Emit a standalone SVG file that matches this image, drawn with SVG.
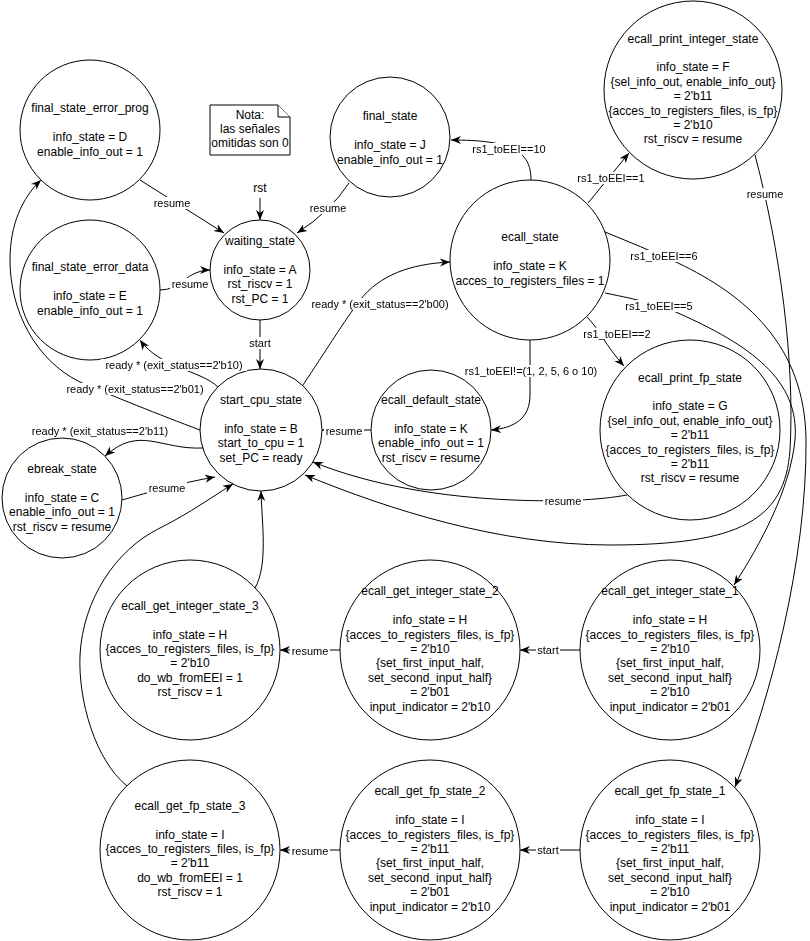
<svg xmlns="http://www.w3.org/2000/svg" width="810" height="941" viewBox="0 0 810 941">
  <style>
    .st { fill: #ffffff; stroke: #000000; stroke-width: 1; }
    .nt { font-family: "Liberation Sans", Arial, sans-serif; font-size: 12px; fill: #000000; text-anchor: middle; }
    .ed { fill: none; stroke: #000000; stroke-width: 1; marker-end: url(#arrow); }
    .lb { font-family: "Liberation Sans", Arial, sans-serif; font-size: 11px; fill: #000000; text-anchor: middle; filter: url(#lblbg); }
  </style>
  <defs>
    <marker id="arrow" markerUnits="userSpaceOnUse" markerWidth="11" markerHeight="9" refX="10" refY="4.5" orient="auto">
      <path d="M0,0.5 L10,4.5 L0,8.5 L3,4.5 Z" fill="#000000" stroke="none"/>
    </marker>
    <!-- white box behind edge labels, sized to the text bounds -->
    <filter id="lblbg" x="-0.03" y="0" width="1.06" height="1" color-interpolation-filters="sRGB">
      <feFlood flood-color="#ffffff" flood-opacity="1" result="bg"/>
      <feMerge>
        <feMergeNode in="bg"/>
        <feMergeNode in="SourceGraphic"/>
      </feMerge>
    </filter>
  </defs>
  <rect x="0" y="0" width="810" height="941" fill="#ffffff"/>

  <!-- states -->
  <g id="final_state_error_prog">
    <circle class="st" cx="90" cy="130" r="70"/>
    <text class="nt" x="90" y="112.4"><tspan x="90">final_state_error_prog</tspan><tspan x="90" dy="28.8">info_state = D</tspan><tspan x="90" dy="14.4">enable_info_out = 1</tspan></text>
  </g>
  <g id="note">
    <path class="st" d="M210,105 L278,105 L290,117 L290,155 L210,155 Z"/>
    <path class="st" d="M278,105 L278,117 L290,117" fill="none"/>
    <text class="nt" x="250" y="119"><tspan x="250">Nota:</tspan><tspan x="250" dy="14">las señales</tspan><tspan x="250" dy="14">omitidas son 0</tspan></text>
  </g>
  <g id="waiting_state">
    <circle class="st" cx="260" cy="270" r="50"/>
    <text class="nt" x="260" y="245.2"><tspan x="260">waiting_state</tspan><tspan x="260" dy="28.8">info_state = A</tspan><tspan x="260" dy="14.4">rst_riscv = 1</tspan><tspan x="260" dy="14.4">rst_PC = 1</tspan></text>
  </g>
  <g id="final_state">
    <circle class="st" cx="390" cy="137" r="60"/>
    <text class="nt" x="390" y="120.4"><tspan x="390">final_state</tspan><tspan x="390" dy="28.8">info_state = J</tspan><tspan x="390" dy="14.4">enable_info_out = 1</tspan></text>
  </g>
  <g id="ecall_state">
    <circle class="st" cx="530" cy="260" r="80"/>
    <text class="nt" x="530" y="241.4"><tspan x="530">ecall_state</tspan><tspan x="530" dy="28.8">info_state = K</tspan><tspan x="530" dy="14.4">acces_to_registers_files = 1</tspan></text>
  </g>
  <g id="ecall_print_integer_state">
    <circle class="st" cx="693" cy="90" r="89"/>
    <text class="nt" x="693" y="42.6"><tspan x="693">ecall_print_integer_state</tspan><tspan x="693" dy="28.8">info_state = F</tspan><tspan x="693" dy="14.4">{sel_info_out, enable_info_out}</tspan><tspan x="693" dy="14.4">= 2'b11</tspan><tspan x="693" dy="14.4">{acces_to_registers_files, is_fp}</tspan><tspan x="693" dy="14.4">= 2'b10</tspan><tspan x="693" dy="14.4">rst_riscv = resume</tspan></text>
  </g>
  <g id="final_state_error_data">
    <circle class="st" cx="90" cy="290" r="70"/>
    <text class="nt" x="90" y="271.4"><tspan x="90">final_state_error_data</tspan><tspan x="90" dy="28.8">info_state = E</tspan><tspan x="90" dy="14.4">enable_info_out = 1</tspan></text>
  </g>
  <g id="start_cpu_state">
    <circle class="st" cx="261" cy="430" r="61"/>
    <text class="nt" x="261" y="404.2"><tspan x="261">start_cpu_state</tspan><tspan x="261" dy="28.8">info_state = B</tspan><tspan x="261" dy="14.4">start_to_cpu = 1</tspan><tspan x="261" dy="14.4">set_PC = ready</tspan></text>
  </g>
  <g id="ebreak_state">
    <circle class="st" cx="62" cy="498" r="60"/>
    <text class="nt" x="62" y="473.2"><tspan x="62">ebreak_state</tspan><tspan x="62" dy="28.8">info_state = C</tspan><tspan x="62" dy="14.4">enable_info_out = 1</tspan><tspan x="62" dy="14.4">rst_riscv = resume</tspan></text>
  </g>
  <g id="ecall_default_state">
    <circle class="st" cx="431" cy="430" r="60"/>
    <text class="nt" x="431" y="404.2"><tspan x="431">ecall_default_state</tspan><tspan x="431" dy="28.8">info_state = K</tspan><tspan x="431" dy="14.4">enable_info_out = 1</tspan><tspan x="431" dy="14.4">rst_riscv = resume</tspan></text>
  </g>
  <g id="ecall_print_fp_state">
    <circle class="st" cx="690" cy="430" r="90"/>
    <text class="nt" x="690" y="381.6"><tspan x="690">ecall_print_fp_state</tspan><tspan x="690" dy="28.8">info_state = G</tspan><tspan x="690" dy="14.4">{sel_info_out, enable_info_out}</tspan><tspan x="690" dy="14.4">= 2'b11</tspan><tspan x="690" dy="14.4">{acces_to_registers_files, is_fp}</tspan><tspan x="690" dy="14.4">= 2'b11</tspan><tspan x="690" dy="14.4">rst_riscv = resume</tspan></text>
  </g>
  <g id="ecall_get_integer_state_3">
    <circle class="st" cx="190" cy="650" r="90"/>
    <text class="nt" x="190" y="609.8"><tspan x="190">ecall_get_integer_state_3</tspan><tspan x="190" dy="28.8">info_state = H</tspan><tspan x="190" dy="14.4">{acces_to_registers_files, is_fp}</tspan><tspan x="190" dy="14.4">= 2'b10</tspan><tspan x="190" dy="14.4">do_wb_fromEEI = 1</tspan><tspan x="190" dy="14.4">rst_riscv = 1</tspan></text>
  </g>
  <g id="ecall_get_integer_state_2">
    <circle class="st" cx="430" cy="650" r="90"/>
    <text class="nt" x="430" y="595.4"><tspan x="430">ecall_get_integer_state_2</tspan><tspan x="430" dy="28.8">info_state = H</tspan><tspan x="430" dy="14.4">{acces_to_registers_files, is_fp}</tspan><tspan x="430" dy="14.4">= 2'b10</tspan><tspan x="430" dy="14.4">{set_first_input_half,</tspan><tspan x="430" dy="14.4">set_second_input_half}</tspan><tspan x="430" dy="14.4">= 2'b01</tspan><tspan x="430" dy="14.4">input_indicator = 2'b10</tspan></text>
  </g>
  <g id="ecall_get_integer_state_1">
    <circle class="st" cx="670" cy="650" r="90"/>
    <text class="nt" x="670" y="595.4"><tspan x="670">ecall_get_integer_state_1</tspan><tspan x="670" dy="28.8">info_state = H</tspan><tspan x="670" dy="14.4">{acces_to_registers_files, is_fp}</tspan><tspan x="670" dy="14.4">= 2'b10</tspan><tspan x="670" dy="14.4">{set_first_input_half,</tspan><tspan x="670" dy="14.4">set_second_input_half}</tspan><tspan x="670" dy="14.4">= 2'b10</tspan><tspan x="670" dy="14.4">input_indicator = 2'b01</tspan></text>
  </g>
  <g id="ecall_get_fp_state_3">
    <circle class="st" cx="190" cy="850" r="90"/>
    <text class="nt" x="190" y="809.8"><tspan x="190">ecall_get_fp_state_3</tspan><tspan x="190" dy="28.8">info_state = I</tspan><tspan x="190" dy="14.4">{acces_to_registers_files, is_fp}</tspan><tspan x="190" dy="14.4">= 2'b11</tspan><tspan x="190" dy="14.4">do_wb_fromEEI = 1</tspan><tspan x="190" dy="14.4">rst_riscv = 1</tspan></text>
  </g>
  <g id="ecall_get_fp_state_2">
    <circle class="st" cx="430" cy="850" r="90"/>
    <text class="nt" x="430" y="795.4"><tspan x="430">ecall_get_fp_state_2</tspan><tspan x="430" dy="28.8">info_state = I</tspan><tspan x="430" dy="14.4">{acces_to_registers_files, is_fp}</tspan><tspan x="430" dy="14.4">= 2'b11</tspan><tspan x="430" dy="14.4">{set_first_input_half,</tspan><tspan x="430" dy="14.4">set_second_input_half}</tspan><tspan x="430" dy="14.4">= 2'b01</tspan><tspan x="430" dy="14.4">input_indicator = 2'b10</tspan></text>
  </g>
  <g id="ecall_get_fp_state_1">
    <circle class="st" cx="670" cy="850" r="90"/>
    <text class="nt" x="670" y="795.4"><tspan x="670">ecall_get_fp_state_1</tspan><tspan x="670" dy="28.8">info_state = I</tspan><tspan x="670" dy="14.4">{acces_to_registers_files, is_fp}</tspan><tspan x="670" dy="14.4">= 2'b11</tspan><tspan x="670" dy="14.4">{set_first_input_half,</tspan><tspan x="670" dy="14.4">set_second_input_half}</tspan><tspan x="670" dy="14.4">= 2'b10</tspan><tspan x="670" dy="14.4">input_indicator = 2'b01</tspan></text>
  </g>

  <!-- transitions -->
  <g id="connectors">
    <text class="nt" x="260" y="192">rst</text>
    <path class="ed" d="M260,198 L260,220"/>

    <path class="ed" d="M140,180 L224,233"/>
    <text class="lb" x="172" y="207">resume</text>

    <path class="ed" d="M349,183 Q330,212 297,233"/>
    <text class="lb" x="328" y="212">resume</text>

    <path class="ed" d="M160,290 C182,290 186,270 210,270"/>
    <text class="lb" x="190" y="288">resume</text>

    <path class="ed" d="M260,320 L260,369"/>
    <text class="lb" x="260" y="347">start</text>

    <path class="ed" d="M218,387 C200,370 160,368 140,340"/>
    <text class="lb" x="174" y="369">ready * (exit_status==2'b10)</text>

    <path class="ed" d="M200,430 C160,415 110,395 80,382 C35,360 10,310 10,260 C10,225 22,198 41,180"/>
    <text class="lb" x="135" y="393">ready * (exit_status==2'b01)</text>

    <path class="ed" d="M203,448 C160,450 140,425 105,456"/>
    <text class="lb" x="100" y="435">ready * (exit_status==2'b11)</text>

    <path class="ed" d="M122,500 C150,492 180,483 215,477"/>
    <text class="lb" x="167" y="492">resume</text>

    <path class="ed" d="M303,385 C325,352 345,320 360,300 C380,275 410,264 450,262"/>
    <text class="lb" x="380" y="308">ready * (exit_status==2'b00)</text>

    <path class="ed" d="M531,180 C531,150 510,140 451,140"/>
    <text class="lb" x="509" y="153">rs1_toEEI==10</text>

    <path class="ed" d="M588,203 L629,153"/>
    <text class="lb" x="611" y="182">rs1_toEEI==1</text>

    <path class="ed" d="M755,155 C780,250 795,360 790,450 C785,520 740,545 610,545 C500,545 390,510 305,475"/>
    <text class="lb" x="765" y="198">resume</text>

    <path class="ed" d="M605,232 Q640,246 678,263 C745,295 805,345 806,440 C807,560 770,700 735,787"/>
    <text class="lb" x="664" y="260">rs1_toEEI==6</text>

    <path class="ed" d="M605,293 C640,300 660,305 678,313 C750,345 800,380 795,440 C790,490 760,545 734,585"/>
    <text class="lb" x="659" y="310">rs1_toEEI==5</text>

    <path class="ed" d="M587,317 C600,330 605,345 624,366"/>
    <text class="lb" x="617" y="338">rs1_toEEI==2</text>

    <path class="ed" d="M530,340 L530,395 C530,418 515,428 491,430"/>
    <text class="lb" x="531" y="375">rs1_toEEI!=(1, 2, 5, 6 o 10)</text>

    <path class="ed" d="M371,430 L322,430"/>
    <text class="lb" x="344" y="435">resume</text>

    <path class="ed" d="M627,495 C600,500 560,502 513,500 C440,497 370,485 313,462"/>
    <text class="lb" x="563" y="505">resume</text>

    <path class="ed" d="M580,650 L520,650"/>
    <text class="lb" x="548" y="654">start</text>

    <path class="ed" d="M340,650 L280,650"/>
    <text class="lb" x="310" y="655">resume</text>

    <path class="ed" d="M255,588 C268,565 262,525 261,491"/>

    <path class="ed" d="M127,786 C95,760 78,700 80,655 C83,600 115,550 160,528 C190,513 215,495 233,484"/>

    <path class="ed" d="M580,850 L520,850"/>
    <text class="lb" x="548" y="854">start</text>

    <path class="ed" d="M340,850 L280,850"/>
    <text class="lb" x="310" y="855">resume</text>
  </g>
</svg>
